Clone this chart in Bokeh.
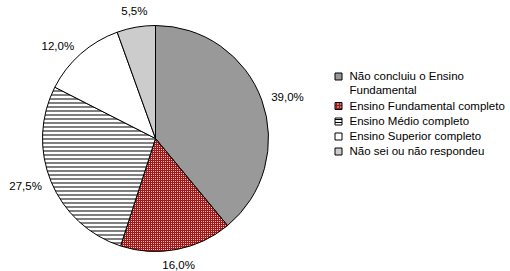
import math
from bokeh.plotting import figure
from bokeh.models import ColumnDataSource, Range1d
from bokeh.core.properties import value
from bokeh.embed import file_html
from bokeh.resources import INLINE

categories = ["Não concluiu o Ensino\nFundamental", "Ensino Fundamental completo",
              "Ensino Médio completo", "Ensino Superior completo", "Não sei ou não respondeu"]
values = [39.0, 16.0, 27.5, 12.0, 5.5]

fills = ["#999999", "#a01818", "#ffffff", "#ffffff", "#cccccc"]
hatches = [" ", "dot", "horizontal_line", " ", " "]
hatch_colors = ["black", "white", "black", "black", "black"]
hatch_scales = [4, 2, 4, 4, 4]
hatch_weights = [1, 1.8, 1, 1, 1]

FONT = "Liberation Sans"
FS = "11.5px"

W, H = 510, 271
p = figure(width=W, height=H, output_backend="svg", toolbar_location=None,
           x_range=Range1d(0, W), y_range=Range1d(-H, 0),
           min_border=0, outline_line_color=None)
p.axis.visible = False
p.grid.visible = False
p.background_fill_color = "white"
p.border_fill_color = "white"

cx, cy, R = 155, -138, 113
total = sum(values)
starts, ends, lx, ly, la, lb, labels = [], [], [], [], [], [], []
c = 0.0
for v in values:
    a0 = math.pi / 2 - 2 * math.pi * c / total
    c += v
    a1 = math.pi / 2 - 2 * math.pi * c / total
    starts.append(a0)
    ends.append(a1)
    mid = (a0 + a1) / 2
    rr = R + 10
    x = cx + rr * math.cos(mid)
    y = cy + rr * math.sin(mid)
    if abs(math.cos(mid)) < 0.35:
        la.append("center")
        lb.append("bottom" if math.sin(mid) > 0 else "top")
    else:
        la.append("left" if math.cos(mid) > 0 else "right")
        lb.append("middle")
    lx.append(x)
    ly.append(y)
    labels.append(f"{v:.1f}".replace(".", ",") + "%")

src = ColumnDataSource(dict(start=starts, end=ends, fill=fills, hatch=hatches,
                            hcol=hatch_colors, hscale=hatch_scales, hw=hatch_weights))
p.wedge(x=cx, y=cy, radius=R, start_angle="start", end_angle="end", direction="clock",
        source=src, fill_color="fill", hatch_pattern="hatch", hatch_color="hcol",
        hatch_scale="hscale", hatch_weight="hw", line_color="black", line_width=1)

lsrc = ColumnDataSource(dict(x=lx, y=ly, text=labels, align=la, base=lb))
p.text(x="x", y="y", text="text", text_align="align", text_baseline="base", source=lsrc,
       text_font=value(FONT), text_font_size=FS, text_color="black")

# legend
row_y = [76, 105.5, 121, 136, 151]
leg = ColumnDataSource(dict(x=[338] * 5, y=[-r for r in row_y], tx=[349] * 5,
                            ty=[-(r - 6.5) for r in row_y], text=categories,
                            fill=fills, hatch=hatches, hcol=hatch_colors))
p.rect(x="x", y="y", width=7, height=7, source=leg, fill_color="fill",
       hatch_pattern="hatch", hatch_color="hcol", hatch_scale=3, hatch_weight=1,
       line_color="black", line_width=1)
p.text(x="tx", y="ty", text="text", source=leg, text_align="left", text_baseline="top",
       text_font=value(FONT), text_font_size=FS, text_color="black", text_line_height=1.18)

open("out.html", "w").write(file_html(p, INLINE))
